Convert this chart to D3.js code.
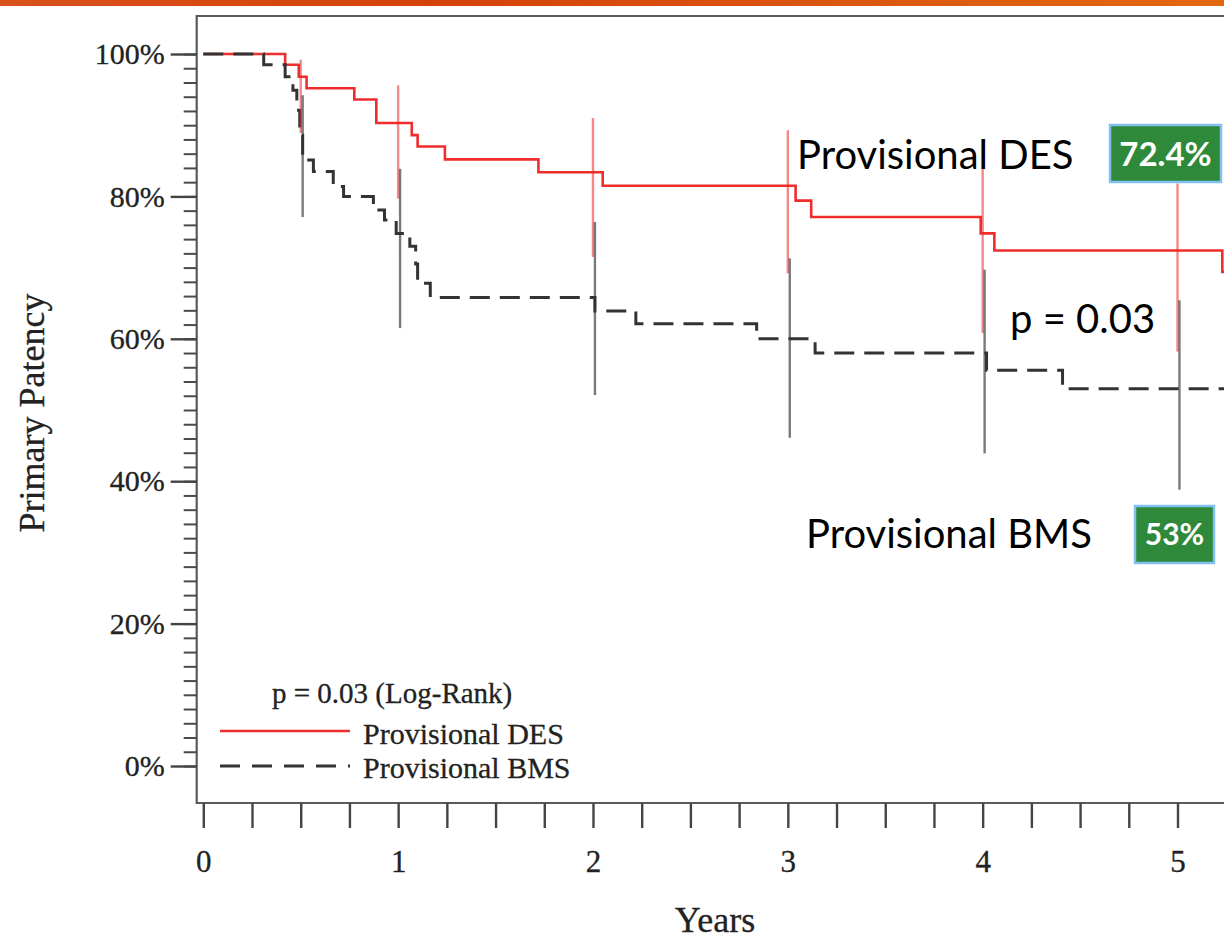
<!DOCTYPE html>
<html>
<head>
<meta charset="utf-8">
<script src="https://cdn.jsdelivr.net/npm/d3@7"></script>
<style>
  html, body { margin: 0; padding: 0; background: #ffffff; }
  svg { display: block; }
</style>
</head>
<body>
<svg id="chart" width="1224" height="941"></svg>
<script>
// ---------------- data ----------------
// Kaplan–Meier steps: time (years) and survival (%) after each step
const desTimes  = [0, 0.42, 0.49, 0.53, 0.775, 0.888, 1.07, 1.10, 1.24, 1.72, 2.05, 3.04, 3.12, 3.99, 4.06, 5.23, 5.35];
const desValues = [100, 98.5, 96.8, 95.2, 93.6, 90.3, 88.6, 87.0, 85.2, 83.4, 81.5, 79.4, 77.1, 74.8, 72.4, 69.4, 69.4];

const bmsTimes  = [0, 0.31, 0.42, 0.46, 0.48, 0.495, 0.51, 0.565, 0.667, 0.72, 0.873, 0.93, 0.99, 1.06, 1.09, 1.10, 1.165, 2.01, 2.22, 2.84, 3.14, 4.02, 4.41, 5.35];
const bmsValues = [100, 98.5, 96.8, 94.9, 92.1, 88.6, 85.1, 83.5, 81.4, 80.0, 78.1, 76.7, 74.8, 73.0, 70.5, 67.8, 65.8, 63.9, 62.1, 60.0, 58.0, 55.6, 53.0, 53.0];

// confidence interval bars
const desCiTimes = [0.5, 1, 2, 3, 4, 5];
const desCiLow   = [88.9, 79.7, 71.5, 69.2, 60.8, 58.2];
const desCiHigh  = [99.2, 95.6, 91.0, 89.3, 84.2, 81.8];

const bmsCiTimes = [0.51, 1.01, 2.01, 3.01, 4.01, 5.01];
const bmsCiLow   = [77.1, 61.5, 52.1, 46.1, 43.9, 38.8];
const bmsCiHigh  = [94.2, 83.9, 76.4, 71.3, 69.7, 65.4];

const yMajorTicks = [0, 20, 40, 60, 80, 100];
const xMajorTicks = [0, 1, 2, 3, 4, 5];

const legendNote   = "p = 0.03 (Log-Rank)";
const seriesNames  = ["Provisional DES", "Provisional BMS"];
const finalLabels  = ["72.4%", "53%"];
const pLabel       = "p = 0.03";

// ---------------- layout ----------------
const svg = d3.select("#chart");
const W = 1224, H = 941;

const frame = { left: 196.7, top: 16, bottom: 803, right: 1240 };

const x = d3.scaleLinear().domain([0, 5]).range([203.3, 1177.5]);
const y = d3.scaleLinear().domain([0, 100]).range([766, 54]);

const serif = "'Liberation Serif', 'Times New Roman', serif";
const sans = "Lato, 'DejaVu Sans', sans-serif";
const textGray = "#222";

// orange header bar
const defs = svg.append("defs");
const grad = defs.append("linearGradient").attr("id", "hdr").attr("x1", "0%").attr("x2", "100%");
grad.append("stop").attr("offset", "0%").attr("stop-color", "#d9521a");
grad.append("stop").attr("offset", "35%").attr("stop-color", "#d4420b");
grad.append("stop").attr("offset", "100%").attr("stop-color", "#e2680f");
svg.append("rect").attr("x", 0).attr("y", 0).attr("width", W).attr("height", 6).attr("fill", "url(#hdr)");

defs.append("clipPath").attr("id", "plotclip")
  .append("rect").attr("x", frame.left).attr("y", frame.top)
  .attr("width", frame.right - frame.left).attr("height", frame.bottom - frame.top);

// frame
svg.append("path")
  .attr("d", `M${frame.right},${frame.top} H${frame.left} V${frame.bottom} H${frame.right}`)
  .attr("fill", "none").attr("stroke", "#5a5a5a").attr("stroke-width", 2.2);

// y axis minor ticks
const yMinor = d3.axisLeft(y).tickValues(d3.range(0, 101, 2)).tickSize(13).tickFormat("");
const gyMinor = svg.append("g").attr("transform", `translate(${frame.left},0)`).call(yMinor);
gyMinor.select(".domain").remove();
gyMinor.selectAll("line").attr("stroke", "#4a4a4a").attr("stroke-width", 2);

// y axis major ticks + labels
const yMajor = d3.axisLeft(y).tickValues(yMajorTicks).tickSize(26).tickPadding(6).tickFormat(d => d + "%");
const gyMajor = svg.append("g").attr("transform", `translate(${frame.left},0)`).call(yMajor);
gyMajor.select(".domain").remove();
gyMajor.selectAll("line").attr("stroke", "#444").attr("stroke-width", 2.4);
gyMajor.selectAll("text")
  .attr("font-family", serif).attr("font-size", 30)
  .attr("fill", textGray).attr("stroke", textGray).attr("stroke-width", 0.3);

// x axis ticks
const xTicks = d3.axisBottom(x).tickValues(d3.range(0, 5.26, 0.25)).tickSize(25).tickFormat("");
const gxTicks = svg.append("g").attr("transform", `translate(0,${frame.bottom})`).call(xTicks);
gxTicks.select(".domain").remove();
gxTicks.selectAll("line").attr("stroke", "#444").attr("stroke-width", 2.4);

const xLab = d3.axisBottom(x).tickValues(xMajorTicks).tickSize(0).tickPadding(47).tickFormat(d3.format("d"));
const gxLab = svg.append("g").attr("transform", `translate(0,${frame.bottom})`).call(xLab);
gxLab.select(".domain").remove();
gxLab.selectAll("text")
  .attr("font-family", serif).attr("font-size", 31)
  .attr("fill", textGray).attr("stroke", textGray).attr("stroke-width", 0.3);

// axis titles
svg.append("text")
  .attr("x", 715).attr("y", 932).attr("text-anchor", "middle")
  .attr("font-family", serif).attr("font-size", 36)
  .attr("fill", textGray).attr("stroke", textGray).attr("stroke-width", 0.3).text("Years");

svg.append("text")
  .attr("transform", "translate(44,413) rotate(-90)").attr("text-anchor", "middle")
  .attr("font-family", serif).attr("font-size", 36)
  .attr("fill", textGray).attr("stroke", textGray).attr("stroke-width", 0.3).text("Primary Patency");

// ---------------- curves ----------------
const plot = svg.append("g").attr("clip-path", "url(#plotclip)");
const line = d3.line().curve(d3.curveStepAfter).x(d => x(d[0])).y(d => y(d[1]));

const desPts = desTimes.map((t, i) => [t, desValues[i]]);
const bmsPts = bmsTimes.map((t, i) => [t, bmsValues[i]]);

plot.append("path").attr("d", line(desPts))
  .attr("fill", "none").attr("stroke", "#ef2d2d").attr("stroke-width", 2.6);

plot.append("path").attr("d", line(bmsPts))
  .attr("fill", "none").attr("stroke", "#333").attr("stroke-width", 3)
  .attr("stroke-dasharray", "20,10");

// CI bars
plot.selectAll(".ciDes").data(desCiTimes).enter().append("line")
  .attr("x1", d => x(d)).attr("x2", d => x(d))
  .attr("y1", (d, i) => y(desCiHigh[i])).attr("y2", (d, i) => y(desCiLow[i]))
  .attr("stroke", "rgba(236,40,40,0.55)").attr("stroke-width", 2.4);

plot.selectAll(".ciBms").data(bmsCiTimes).enter().append("line")
  .attr("x1", d => x(d)).attr("x2", d => x(d))
  .attr("y1", (d, i) => y(bmsCiHigh[i])).attr("y2", (d, i) => y(bmsCiLow[i]))
  .attr("stroke", "rgba(50,50,50,0.65)").attr("stroke-width", 2.4);

// ---------------- legend ----------------
svg.append("text").attr("x", 272).attr("y", 703).attr("font-family", serif)
  .attr("font-size", 29).attr("fill", textGray).attr("stroke", textGray).attr("stroke-width", 0.3).text(legendNote);

svg.append("line").attr("x1", 220).attr("x2", 350).attr("y1", 731).attr("y2", 731)
  .attr("stroke", "#ef2d2d").attr("stroke-width", 2.6);
svg.append("line").attr("x1", 220).attr("x2", 350).attr("y1", 766).attr("y2", 766)
  .attr("stroke", "#333").attr("stroke-width", 3).attr("stroke-dasharray", "20,12");

svg.append("text").attr("x", 363).attr("y", 744).attr("font-family", serif)
  .attr("font-size", 30).attr("fill", textGray).attr("stroke", textGray).attr("stroke-width", 0.3).text(seriesNames[0]);
svg.append("text").attr("x", 363).attr("y", 778).attr("font-family", serif)
  .attr("font-size", 30).attr("fill", textGray).attr("stroke", textGray).attr("stroke-width", 0.3).text(seriesNames[1]);

// ---------------- annotations ----------------
svg.append("text").attr("x", 797).attr("y", 169).attr("font-family", sans)
  .attr("font-size", 40).attr("fill", "#000").text(seriesNames[0]);
svg.append("text").attr("x", 806).attr("y", 548).attr("font-family", sans)
  .attr("font-size", 40).attr("fill", "#000").text(seriesNames[1]);
svg.append("text").attr("x", 1010).attr("y", 333).attr("font-family", sans)
  .attr("font-size", 40).attr("fill", "#000").text(pLabel);

const boxes = [
  { x: 1110, y: 125, w: 111, h: 57, fs: 33, ty: 166, label: finalLabels[0] },
  { x: 1135, y: 506, w: 79,  h: 57, fs: 30, ty: 545, label: finalLabels[1] }
];
boxes.forEach(b => {
  svg.append("rect").attr("x", b.x).attr("y", b.y).attr("width", b.w).attr("height", b.h)
    .attr("fill", "#2e8a3a").attr("stroke", "#84bff2").attr("stroke-width", 2.5);
  svg.append("text").attr("x", b.x + b.w / 2).attr("y", b.ty).attr("text-anchor", "middle")
    .attr("font-family", sans).attr("font-weight", "bold")
    .attr("font-size", b.fs).attr("fill", "#ffffff").text(b.label);
});
</script>
</body>
</html>
